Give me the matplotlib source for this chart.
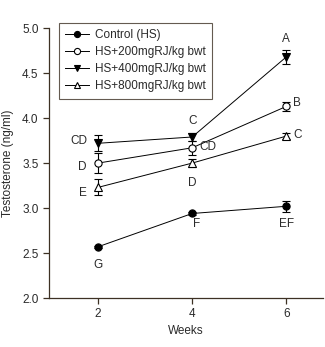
import matplotlib
matplotlib.use("Agg")
import matplotlib.pyplot as plt

# ── Data ─────────────────────────────────────────────────────────────────────
weeks = [2, 4, 6]
series_names = ["Control (HS)", "HS+200mgRJ/kg bwt",
                "HS+400mgRJ/kg bwt", "HS+800mgRJ/kg bwt"]
control = [2.57, 2.94, 3.02]
control_err = [0.01, 0.02, 0.06]
rj200 = [3.50, 3.67, 4.13]
rj200_err = [0.11, 0.08, 0.05]
rj400 = [3.72, 3.79, 4.68]
rj400_err = [0.09, 0.04, 0.08]
rj800 = [3.23, 3.50, 3.80]
rj800_err = [0.09, 0.04, 0.03]

# significance letters: (x, y, text)
letters = [
    (2.0, 2.37, "G"), (4.1, 2.82, "F"), (6.0, 2.82, "EF"),
    (1.67, 3.46, "D"), (4.33, 3.68, "CD"), (6.22, 4.17, "B"),
    (1.6, 3.75, "CD"), (4.0, 3.97, "C"), (6.0, 4.88, "A"),
    (1.67, 3.17, "E"), (4.0, 3.28, "D"), (6.25, 3.81, "C"),
]

# ── Style ────────────────────────────────────────────────────────────────────
plt.rcParams["font.family"] = ["Liberation Sans", "DejaVu Sans"]
C_AX = "#3d3124"
C_TX = "#2a2a2a"
FS = 8.5

fig = plt.figure(figsize=(3.25, 3.47), dpi=100)
ax = fig.add_axes([0.151, 0.141, 0.843, 0.778])

styles = [
    dict(marker="o", mfc="black", mec="black"),
    dict(marker="o", mfc="white", mec="black"),
    dict(marker="v", mfc="black", mec="black"),
    dict(marker="^", mfc="white", mec="black"),
]
values = [control, rj200, rj400, rj800]
errors = [control_err, rj200_err, rj400_err, rj800_err]

for name, v, e, st in zip(series_names, values, errors, styles):
    ax.errorbar(weeks, v, yerr=e, fmt="none", ecolor="black",
                elinewidth=0.8, capsize=3, capthick=0.8)
    ax.plot(weeks, v, color="black", lw=0.7, ms=5.2, mew=0.8,
            label=name, **st)

for x, y, t in letters:
    ax.text(x, y, t, ha="center", va="center", fontsize=FS, color=C_TX)

# ── Axes ─────────────────────────────────────────────────────────────────────
ax.set_xlim(0.96, 6.78)
ax.set_ylim(2.0, 5.0)
ax.set_xticks([2, 4, 6])
ax.set_yticks([2.0, 2.5, 3.0, 3.5, 4.0, 4.5, 5.0])
ax.set_yticklabels(["2.0", "2.5", "3.0", "3.5", "4.0", "4.5", "5.0"])
for s in ["top", "right"]:
    ax.spines[s].set_visible(False)
for s in ["left", "bottom"]:
    ax.spines[s].set_color(C_AX)
    ax.spines[s].set_linewidth(0.9)
ax.tick_params(direction="out", length=4, width=0.9, color=C_AX,
               labelsize=FS, labelcolor=C_TX)
ax.set_xlabel("Weeks", fontsize=FS, color=C_TX, labelpad=3)
ax.set_ylabel("Testosterone (ng/ml)", fontsize=FS, color=C_TX,
              labelpad=6)

leg = ax.legend(loc="upper left", bbox_to_anchor=(0.035, 1.02),
                fontsize=FS, frameon=True, fancybox=False,
                edgecolor=C_AX, handlelength=2.0, handletextpad=0.5,
                borderpad=0.55, labelspacing=0.42, borderaxespad=0,
                markerscale=0.85)
leg.get_frame().set_linewidth(0.8)
for t in leg.get_texts():
    t.set_color(C_TX)

fig.savefig("out.png", dpi=100, facecolor="white")
